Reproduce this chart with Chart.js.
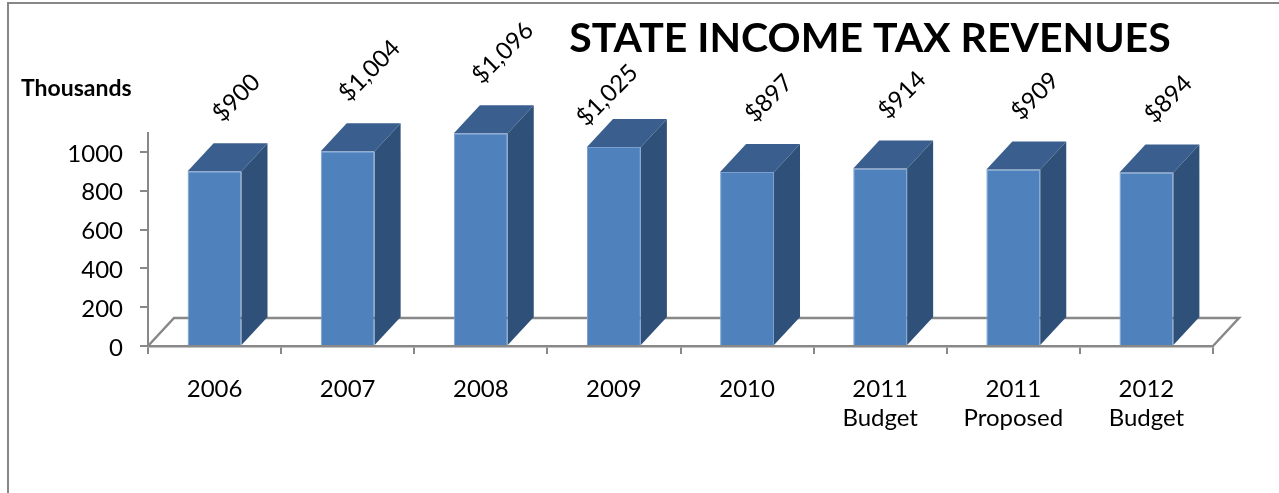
<!DOCTYPE html>
<html lang="en">
<head>
<meta charset="UTF-8">
<title>State Income Tax Revenues</title>
<script src="https://cdn.jsdelivr.net/npm/chart.js"></script>
</head>
<body style="margin:0; background:#fff; overflow:hidden;">
<div style="position:relative; width:1279px; height:493px; overflow:hidden;">
    <canvas id="revenueChart" width="1279" height="493"></canvas>
    <!-- chart frame, runs off the right and bottom edges -->
    <div style="position:absolute; left:7px; top:2px; width:1300px; height:520px;
        border-left:2px solid #878787; border-top:2px solid #878787; pointer-events:none;"></div>
</div>

<script>
    const periods = ['2006', '2007', '2008', '2009', '2010', ['2011', 'Budget'], ['2011', 'Proposed'], ['2012', 'Budget']];
    const revenues = [900, 1004, 1096, 1025, 897, 914, 909, 894];
    const yTicks = [0, 200, 400, 600, 800, 1000];

    const chartTitle = 'STATE INCOME TAX REVENUES';
    const unitLabel = 'Thousands';

    const FONT = 'Lato';
    const depthX = 26, depthY = -28;   // slant of the 3d boxes and floor
    const axisGray = '#888888';

    const money = v => '$' + v.toLocaleString('en-US');

    // floor under the bars, then the top/side faces of each box, value labels and headings
    const columns3d = {
        id: 'columns3d',
        beforeDatasetsDraw(chart) {
            const { ctx, chartArea: a } = chart;
            ctx.save();
            ctx.strokeStyle = axisGray;
            ctx.lineWidth = 2.5;
            ctx.beginPath();
            ctx.moveTo(a.left, a.bottom);
            ctx.lineTo(a.left + depthX, a.bottom + depthY);
            ctx.lineTo(a.right + depthX, a.bottom + depthY);
            ctx.lineTo(a.right, a.bottom);
            ctx.stroke();
            ctx.restore();
        },
        afterDatasetsDraw(chart) {
            const { ctx, chartArea: a } = chart;
            const bars = chart.getDatasetMeta(0).data;

            bars.forEach(bar => {
                const { x, y, base, width } = bar.getProps(['x', 'y', 'base', 'width'], true);
                const l = x - width / 2, r = x + width / 2;
                ctx.save();
                // top face
                ctx.fillStyle = '#3A5F8E';
                ctx.beginPath();
                ctx.moveTo(l, y);
                ctx.lineTo(r, y);
                ctx.lineTo(r + depthX, y + depthY);
                ctx.lineTo(l + depthX, y + depthY);
                ctx.closePath();
                ctx.fill();
                // right side face
                ctx.fillStyle = '#2F5179';
                ctx.beginPath();
                ctx.moveTo(r, y);
                ctx.lineTo(r + depthX, y + depthY);
                ctx.lineTo(r + depthX, base + depthY);
                ctx.lineTo(r, base);
                ctx.closePath();
                ctx.fill();
                ctx.restore();
            });

            // title
            ctx.save();
            ctx.fillStyle = '#000';
            ctx.font = `bold 41px ${FONT}`;
            ctx.textAlign = 'center';
            ctx.textBaseline = 'alphabetic';
            const titleX = a.left + 722, titleBottom = 52;
            ctx.fillText(chartTitle, titleX, titleBottom);
            const titleLeft = titleX - ctx.measureText(chartTitle).width / 2;

            ctx.font = `bold 23px ${FONT}`;
            ctx.textAlign = 'left';
            ctx.fillText(unitLabel, 21, 96);

            // rotated value labels above each box
            const f = 24;
            ctx.font = `${f}px ${FONT}`;
            ctx.textAlign = 'center';
            ctx.textBaseline = 'middle';
            bars.forEach((bar, i) => {
                const text = money(revenues[i]);
                const w = ctx.measureText(text).width;
                const half = (w + f * 0.8) / Math.SQRT2 / 2;
                let cx = bar.x + 22;
                let cy = bar.y + depthY - 19 - half;
                // slide back along the text direction if it would run into the title
                const overlap = titleBottom + 10 - (cy - half);
                if (overlap > 0 && cx + half > titleLeft) {
                    cx -= overlap;
                    cy += overlap;
                }
                ctx.save();
                ctx.translate(cx, cy);
                ctx.rotate(-Math.PI / 4);
                ctx.fillText(text, 0, 0);
                ctx.restore();
            });
            ctx.restore();
        }
    };

    const ctx = document.getElementById('revenueChart').getContext('2d');

    new Chart(ctx, {
        type: 'bar',
        data: {
            labels: periods,
            datasets: [{
                label: 'Revenue',
                data: revenues,
                backgroundColor: '#4F81BD',
                borderColor: '#7CA0D2',
                borderWidth: 1,
                barPercentage: 0.405,
                categoryPercentage: 1
            }]
        },
        options: {
            responsive: false,
            animation: false,
            layout: {
                padding: { left: 0, right: 66, top: 132.5, bottom: 0 }
            },
            scales: {
                x: {
                    grid: {
                        offset: true,
                        drawOnChartArea: false,
                        drawTicks: true,
                        tickLength: 8,
                        color: axisGray,
                        lineWidth: 2
                    },
                    border: { display: true, color: axisGray, width: 2.5 },
                    ticks: {
                        color: '#000',
                        font: { family: FONT, size: 24, lineHeight: 1.2 },
                        padding: 21,
                        maxRotation: 0,
                        autoSkip: false
                    },
                    afterFit: scale => { scale.height = 147; }
                },
                y: {
                    min: 0,
                    max: 1100,
                    afterBuildTicks: scale => {
                        scale.ticks = yTicks.map(v => ({ value: v }));
                    },
                    grid: {
                        drawOnChartArea: false,
                        drawTicks: true,
                        tickLength: 8,
                        color: axisGray,
                        lineWidth: 2
                    },
                    border: { display: true, color: axisGray, width: 2 },
                    ticks: {
                        color: '#000',
                        font: { family: FONT, size: 24 },
                        padding: 17,
                        labelOffset: 2,
                        callback: v => String(v)
                    },
                    afterFit: scale => { scale.width = 148; }
                }
            },
            plugins: {
                legend: { display: false },
                tooltip: { enabled: false }
            }
        },
        plugins: [columns3d]
    });
</script>
</body>
</html>
